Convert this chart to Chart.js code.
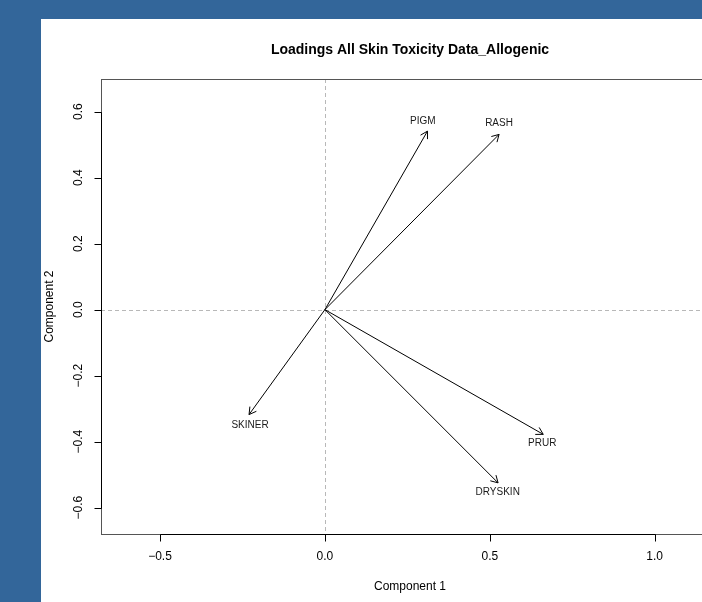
<!DOCTYPE html>
<html lang="en">
<head>
<meta charset="UTF-8">
<title>Loadings All Skin Toxicity Data_Allogenic</title>
<script src="https://cdn.jsdelivr.net/npm/chart.js"></script>
<style>
    html, body {
        margin: 0;
        padding: 0;
        width: 702px;
        height: 602px;
        overflow: hidden;
        background: #33669a;
    }
    #panel {
        position: absolute;
        left: 41px;
        top: 19px;
        width: 800px;
        height: 700px;
        background: #ffffff;
    }
    #chart {
        position: absolute;
        left: 0;
        top: 0;
    }
</style>
</head>
<body>
<div id="panel"></div>
<canvas id="chart" width="820" height="602"></canvas>

<script>
    // loadings
    const variables = ["PIGM", "RASH", "SKINER", "PRUR", "DRYSKIN"];
    const comp1 = [0.311, 0.528, -0.230, 0.662, 0.525];
    const comp2 = [0.541, 0.531, -0.318, -0.378, -0.525];
    // where the names sit
    const labelComp1 = [0.297, 0.528, -0.227, 0.659, 0.524];
    const labelComp2 = [0.572, 0.565, -0.350, -0.406, -0.554];

    const xTicks = [-0.5, 0, 0.5, 1.0];
    const xTickLabels = ["\u22120.5", "0.0", "0.5", "1.0"];
    const yTicks = [-0.6, -0.4, -0.2, 0, 0.2, 0.4, 0.6];
    const yTickLabels = ["\u22120.6", "\u22120.4", "\u22120.2", "0.0", "0.2", "0.4", "0.6"];

    const FONT = '"Liberation Sans", Arial, Helvetica, sans-serif';

    // R-like axes, box, arrow heads and text
    const rStyle = {
        id: 'rStyle',
        beforeDatasetsDraw(chart) {
            const {ctx, chartArea: a, scales: {x, y}} = chart;
            const x0 = Math.round(x.getPixelForValue(0)) + 0.5;
            const y0 = Math.round(y.getPixelForValue(0)) + 0.5;
            ctx.save();
            ctx.strokeStyle = '#b8b8b8';
            ctx.lineWidth = 1;
            ctx.setLineDash([4, 3]);
            ctx.beginPath();
            ctx.moveTo(x0, a.top);
            ctx.lineTo(x0, a.bottom);
            ctx.moveTo(a.left, y0);
            ctx.lineTo(a.right, y0);
            ctx.stroke();
            ctx.restore();
        },
        afterDatasetsDraw(chart) {
            const {ctx, chartArea: a, scales: {x, y}} = chart;
            ctx.save();

            // arrow heads
            ctx.strokeStyle = '#000';
            ctx.lineWidth = 1;
            const ox = x.getPixelForValue(0), oy = y.getPixelForValue(0);
            variables.forEach((v, i) => {
                const tx = x.getPixelForValue(comp1[i]);
                const ty = y.getPixelForValue(comp2[i]);
                const ang = Math.atan2(ty - oy, tx - ox);
                const len = 8, spread = Math.PI / 6;
                ctx.beginPath();
                ctx.moveTo(tx - len * Math.cos(ang - spread), ty - len * Math.sin(ang - spread));
                ctx.lineTo(tx, ty);
                ctx.lineTo(tx - len * Math.cos(ang + spread), ty - len * Math.sin(ang + spread));
                ctx.stroke();
            });

            // variable names
            ctx.fillStyle = '#1a1a1a';
            ctx.font = '10px ' + FONT;
            ctx.textAlign = 'center';
            ctx.textBaseline = 'middle';
            variables.forEach((v, i) => {
                ctx.fillText(v, x.getPixelForValue(labelComp1[i]), y.getPixelForValue(labelComp2[i]));
            });

            // box
            const L = Math.round(a.left) + 0.5, R = Math.round(a.right) + 0.5;
            const T = Math.round(a.top) + 0.5, B = Math.round(a.bottom) + 0.5;
            ctx.strokeStyle = '#555';
            ctx.strokeRect(L, T, R - L, B - T);

            // x axis
            ctx.strokeStyle = '#000';
            ctx.beginPath();
            ctx.moveTo(Math.round(x.getPixelForValue(xTicks[0])) + 0.5, B);
            ctx.lineTo(Math.round(x.getPixelForValue(xTicks[xTicks.length - 1])) + 0.5, B);
            xTicks.forEach(t => {
                const px = Math.round(x.getPixelForValue(t)) + 0.5;
                ctx.moveTo(px, B);
                ctx.lineTo(px, B + 7);
            });
            // y axis
            ctx.moveTo(L, Math.round(y.getPixelForValue(yTicks[0])) + 0.5);
            ctx.lineTo(L, Math.round(y.getPixelForValue(yTicks[yTicks.length - 1])) + 0.5);
            yTicks.forEach(t => {
                const py = Math.round(y.getPixelForValue(t)) + 0.5;
                ctx.moveTo(L, py);
                ctx.lineTo(L - 7, py);
            });
            ctx.stroke();

            ctx.fillStyle = '#000';
            ctx.font = '12px ' + FONT;
            xTicks.forEach((t, i) => {
                ctx.fillText(xTickLabels[i], x.getPixelForValue(t), B + 22);
            });
            yTicks.forEach((t, i) => {
                ctx.save();
                ctx.translate(a.left - 22, y.getPixelForValue(t));
                ctx.rotate(-Math.PI / 2);
                ctx.fillText(yTickLabels[i], 0, 0);
                ctx.restore();
            });

            // axis titles
            const cx = (a.left + a.right) / 2, cy = (a.top + a.bottom) / 2;
            ctx.fillText('Component 1', cx, B + 52);
            ctx.save();
            ctx.translate(a.left - 51, cy);
            ctx.rotate(-Math.PI / 2);
            ctx.fillText('Component 2', 0, 0);
            ctx.restore();

            // main title
            ctx.font = 'bold 14px ' + FONT;
            ctx.fillText('Loadings All Skin Toxicity Data_Allogenic', cx, 50);

            ctx.restore();
        }
    };

    const datasets = variables.map((v, i) => ({
        label: v,
        data: [{x: 0, y: 0}, {x: comp1[i], y: comp2[i]}],
        showLine: true,
        borderColor: '#000',
        borderWidth: 1,
        pointRadius: 0,
        fill: false
    }));

    new Chart(document.getElementById('chart').getContext('2d'), {
        type: 'scatter',
        data: {datasets: datasets},
        options: {
            responsive: false,
            animation: false,
            devicePixelRatio: 1,
            layout: {padding: {left: 101, right: 101, top: 79, bottom: 68}},
            plugins: {
                legend: {display: false},
                title: {display: false},
                tooltip: {enabled: false}
            },
            scales: {
                x: {type: 'linear', min: -0.679, max: 1.195, display: false},
                y: {type: 'linear', min: -0.680, max: 0.699, display: false}
            }
        },
        plugins: [rStyle]
    });
</script>
</body>
</html>
